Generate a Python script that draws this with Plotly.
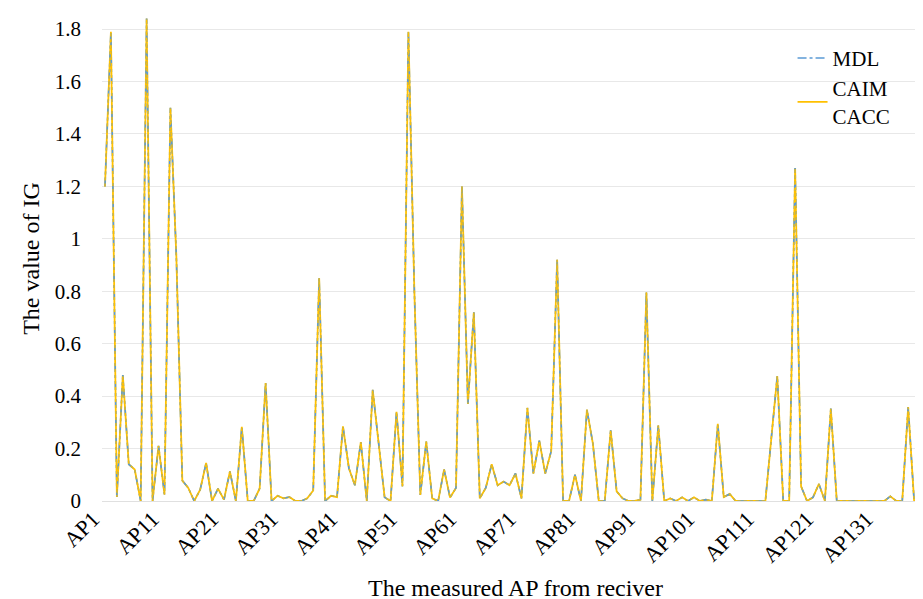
import plotly.graph_objects as go

ap_labels = [f"AP{i}" for i in range(1, 140)]
ap_index = list(range(1, 140))

mdl = [
    1.2, 1.79, 0.015, 0.48, 0.14, 0.12, 0.0, 1.84, 0.0, 0.21,
    0.025, 1.5, 0.93, 0.078, 0.05, 0.0, 0.043, 0.145, 0.0, 0.047,
    0.005, 0.113, 0.0, 0.283, 0.0, 0.0, 0.048, 0.45, 0.0, 0.02,
    0.01, 0.015, 0.0, 0.0, 0.01, 0.04, 0.85, 0.0, 0.02, 0.015,
    0.285, 0.125, 0.06, 0.225, 0.0, 0.424, 0.22, 0.014, 0.0, 0.34,
    0.056, 1.79, 0.8, 0.023, 0.227, 0.01, 0.0, 0.12, 0.013, 0.05,
    1.2, 0.37, 0.72, 0.01, 0.05, 0.14, 0.06, 0.074, 0.06, 0.105,
    0.01, 0.355, 0.105, 0.23, 0.105, 0.19, 0.92, 0.0, 0.0, 0.1,
    0.0, 0.348, 0.22, 0.0, 0.0, 0.27, 0.037, 0.01, 0.0, 0.0,
    0.005, 0.795, 0.0, 0.288, 0.0, 0.01, 0.0, 0.014, 0.0, 0.014,
    0.0, 0.005, 0.0, 0.294, 0.015, 0.027, 0.0, 0.0, 0.0, 0.0,
    0.0, 0.0, 0.24, 0.476, 0.0, 0.0, 1.27, 0.056, 0.0, 0.014,
    0.065, 0.0, 0.353, 0.0, 0.0, 0.0, 0.0, 0.0, 0.0, 0.0,
    0.0, 0.0, 0.018, 0.0, 0.0, 0.358, 0.0, 0.0, 0.132,
]
caim = list(mdl)
cacc = list(mdl)

tick_vals = ap_index[::10]
tick_text = ap_labels[::10]

FONT = "Liberation Serif, Times New Roman, serif"

fig = go.Figure()
fig.add_trace(go.Scatter(x=ap_index, y=caim, mode="lines", name="CAIM<br>CACC",
                         line=dict(color="#FFC000", width=1.8), legendrank=2))
fig.add_trace(go.Scatter(x=ap_index, y=mdl, mode="lines", name="MDL",
                         line=dict(color="#5B9BD5", width=1.6, dash="dashdot"), legendrank=1))
fig.add_trace(go.Scatter(x=ap_index, y=cacc, mode="lines", name="CACC",
                         line=dict(color="#FFC000", width=1.2, dash="dot"), showlegend=False))

fig.update_layout(
    width=923, height=599,
    margin=dict(l=94, r=2, t=8, b=106),
    paper_bgcolor="white", plot_bgcolor="white",
    font=dict(family=FONT, color="black", size=20),
    showlegend=True,
    legend=dict(x=0.835, y=0.955, xanchor="left", yanchor="top",
                bgcolor="rgba(0,0,0,0)", font=dict(size=21),
                traceorder="normal", tracegroupgap=2, itemwidth=30),
    xaxis=dict(range=[0.5, 139.5], tickmode="array", tickvals=tick_vals,
               ticktext=tick_text, tickangle=-45, showgrid=False,
               zeroline=False, showline=False, ticks="",
               tickfont=dict(size=22), ticklabelshift=-12,
               title=dict(text="The measured AP from reciver", font=dict(size=24), standoff=12)),
    yaxis=dict(range=[0, 1.85], tickmode="array",
               tickvals=[0, 0.2, 0.4, 0.6, 0.8, 1, 1.2, 1.4, 1.6, 1.8],
               ticktext=["0", "0.2", "0.4", "0.6", "0.8", "1", "1.2", "1.4", "1.6", "1.8"],
               showgrid=True, gridcolor="#E8E8E8", gridwidth=1,
               zeroline=True, zerolinecolor="#E0E0E0", zerolinewidth=1,
               showline=False, ticks="", tickfont=dict(size=21),
               ticklabelstandoff=20,
               title=dict(text="The value of IG", font=dict(size=24), standoff=8)),
)

fig.write_html("out.html")
